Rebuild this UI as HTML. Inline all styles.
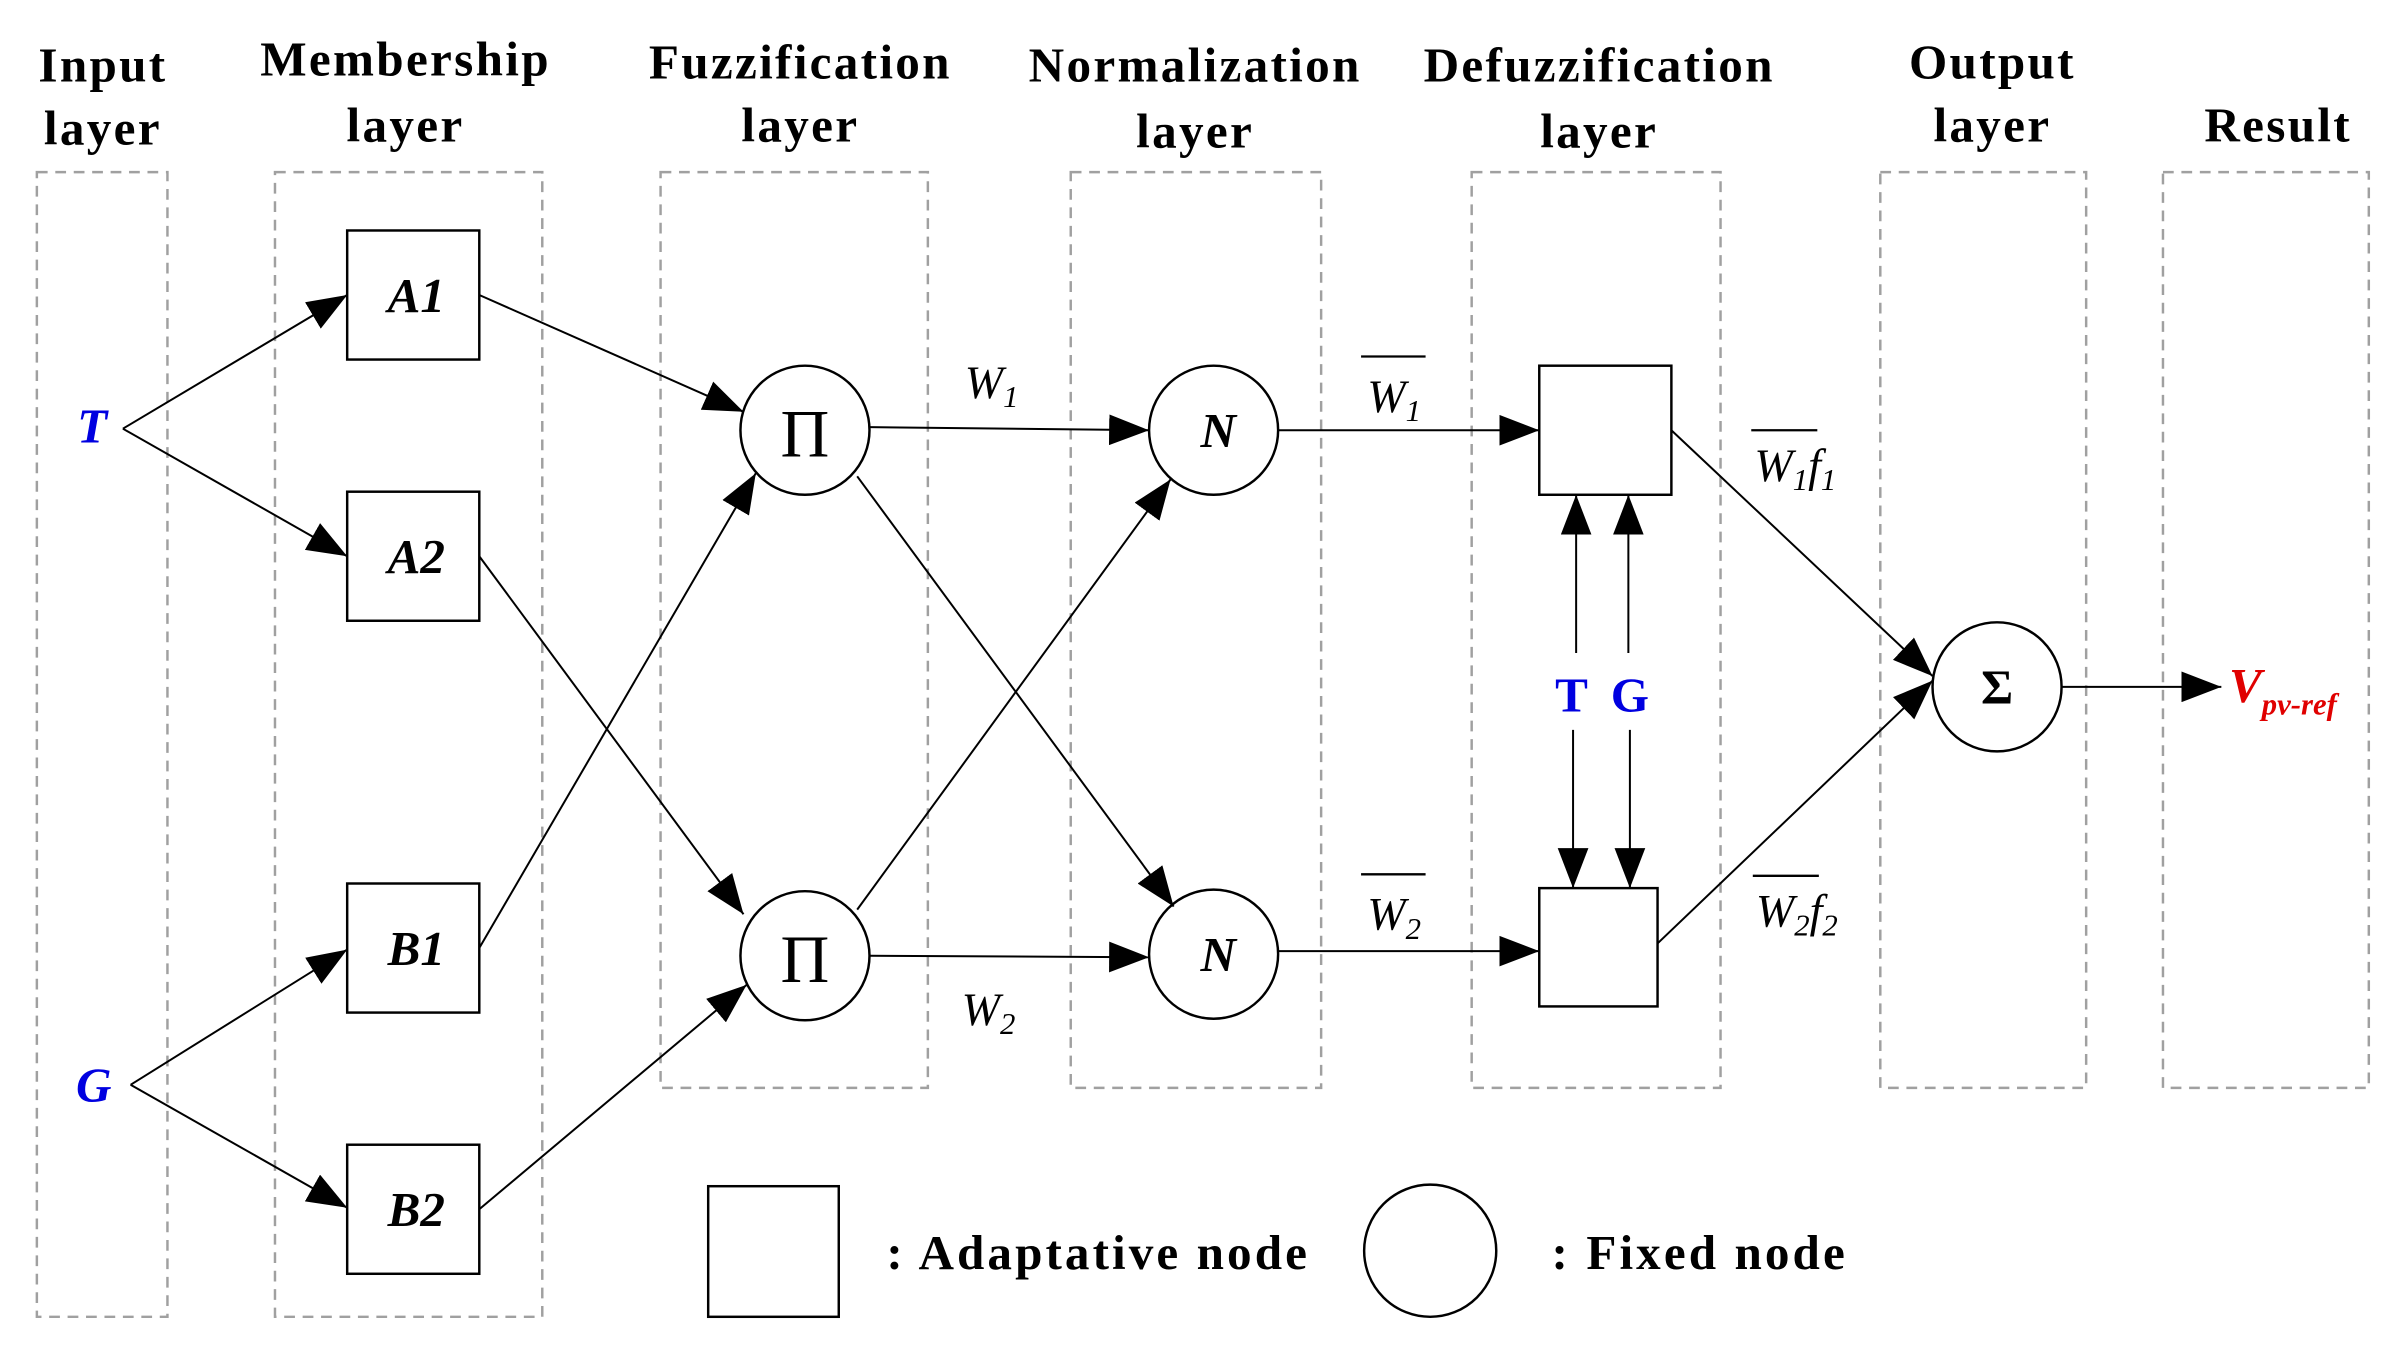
<!DOCTYPE html>
<html><head><meta charset="utf-8"><style>
html,body{margin:0;padding:0;background:#fff;}
svg{display:block;}
.t{font-family:"Liberation Serif",serif;font-weight:bold;font-size:32px;letter-spacing:1.5px;text-anchor:middle;fill:#000;}
.n{font-family:"Liberation Serif",serif;font-weight:bold;font-style:italic;font-size:32px;text-anchor:middle;fill:#000;}
.w{font-family:"Liberation Serif",serif;font-style:italic;font-size:30px;fill:#000;}
.s{font-size:20px;}
</style></head><body>
<svg width="2398" height="1346" viewBox="0 0 1561 876" preserveAspectRatio="none" xmlns="http://www.w3.org/2000/svg">
<defs><marker id="a" markerWidth="26" markerHeight="20" refX="26" refY="10" orient="auto" markerUnits="userSpaceOnUse"><path d="M0,0 L26,10 L0,20 z" fill="#000"/></marker></defs>
<g fill="none" stroke="#a0a0a0" stroke-width="1.6" stroke-dasharray="7,5">
<rect x="24" y="112" width="85" height="745"/>
<rect x="179" y="112" width="174" height="745"/>
<rect x="430" y="112" width="174" height="596"/>
<rect x="697" y="112" width="163" height="596"/>
<rect x="958" y="112" width="162" height="596"/>
<rect x="1224" y="112" width="134" height="596"/>
<rect x="1408" y="112" width="134" height="596"/>
</g>
<text class="t" x="67" y="53">Input</text><text class="t" x="67" y="94">layer</text>
<text class="t" x="264" y="49">Membership</text><text class="t" x="264" y="92">layer</text>
<text class="t" x="521" y="51">Fuzzification</text><text class="t" x="521" y="92">layer</text>
<text class="t" x="778" y="53">Normalization</text><text class="t" x="778" y="96">layer</text>
<text class="t" x="1041" y="53">Defuzzification</text><text class="t" x="1041" y="96">layer</text>
<text class="t" x="1297" y="51">Output</text><text class="t" x="1297" y="92">layer</text>
<text class="t" x="1483" y="92">Result</text>
<g fill="#fff" stroke="#000" stroke-width="1.6">
<rect x="226" y="150" width="86" height="84"/><rect x="226" y="320" width="86" height="84"/>
<rect x="226" y="575" width="86" height="84"/><rect x="226" y="745" width="86" height="84"/>
<circle cx="524" cy="280" r="42"/><circle cx="524" cy="622" r="42"/>
<circle cx="790" cy="280" r="42"/><circle cx="790" cy="621" r="42"/>
<rect x="1002" y="238" width="86" height="84"/><rect x="1002" y="578" width="77" height="77"/>
<circle cx="1300" cy="447" r="42"/>
<rect x="461" y="772" width="85" height="85"/><circle cx="931" cy="814" r="43"/>
</g>
<text class="n" x="271" y="203">A1</text><text class="n" x="271" y="373">A2</text>
<text class="n" x="271" y="628">B1</text><text class="n" x="271" y="798">B2</text>
<text class="n" x="60" y="288" style="fill:#0000e0">T</text>
<text class="n" x="61" y="717" style="fill:#0000e0">G</text>
<text x="524" y="297" font-family="Liberation Serif,serif" font-size="44" text-anchor="middle">Π</text>
<text x="524" y="639" font-family="Liberation Serif,serif" font-size="44" text-anchor="middle">Π</text>
<text class="n" x="793" y="291">N</text><text class="n" x="793" y="632">N</text>
<text x="1300" y="458" font-family="Liberation Serif,serif" font-weight="bold" font-size="32" text-anchor="middle">Σ</text>
<g stroke="#000" stroke-width="1.3" fill="none" marker-end="url(#a)">
<line x1="80" y1="279" x2="226" y2="192"/><line x1="80" y1="279" x2="226" y2="362"/>
<line x1="85" y1="706" x2="226" y2="618"/><line x1="85" y1="706" x2="226" y2="786"/>
<line x1="312" y1="192" x2="484" y2="268"/><line x1="312" y1="362" x2="484" y2="595"/>
<line x1="312" y1="617" x2="492" y2="308"/><line x1="312" y1="787" x2="486" y2="641"/>
<line x1="566" y1="278" x2="748" y2="280"/><line x1="566" y1="622" x2="748" y2="623"/>
<line x1="558" y1="310" x2="764" y2="590"/><line x1="558" y1="592" x2="762" y2="312"/>
<line x1="832" y1="280" x2="1002" y2="280"/><line x1="832" y1="619" x2="1002" y2="619"/>
<line x1="1026" y1="425" x2="1026" y2="322"/><line x1="1060" y1="425" x2="1060" y2="322"/>
<line x1="1024" y1="475" x2="1024" y2="578"/><line x1="1061" y1="475" x2="1061" y2="578"/>
<line x1="1088" y1="280" x2="1258" y2="440"/><line x1="1079" y1="614" x2="1258" y2="443"/>
<line x1="1342" y1="447" x2="1446" y2="447"/>
</g>
<text class="w" x="628" y="259">W<tspan class="s" dy="6">1</tspan></text>
<text class="w" x="626" y="667">W<tspan class="s" dy="6">2</tspan></text>
<text class="w" x="890" y="268">W<tspan class="s" dy="6">1</tspan></text>
<line x1="886" y1="232" x2="928" y2="232" stroke="#000" stroke-width="1.5"/>
<text class="w" x="890" y="605">W<tspan class="s" dy="6">2</tspan></text>
<line x1="886" y1="569" x2="928" y2="569" stroke="#000" stroke-width="1.5"/>
<text class="w" x="1142" y="313">W<tspan class="s" dy="6">1</tspan><tspan dy="-6">f</tspan><tspan class="s" dy="6">1</tspan></text>
<line x1="1140" y1="280" x2="1183" y2="280" stroke="#000" stroke-width="1.5"/>
<text class="w" x="1143" y="603">W<tspan class="s" dy="6">2</tspan><tspan dy="-6">f</tspan><tspan class="s" dy="6">2</tspan></text>
<line x1="1141" y1="570" x2="1184" y2="570" stroke="#000" stroke-width="1.5"/>
<text x="1023" y="463" font-family="Liberation Serif,serif" font-weight="bold" font-size="32" text-anchor="middle" fill="#0000e0">T</text>
<text x="1061" y="463" font-family="Liberation Serif,serif" font-weight="bold" font-size="32" text-anchor="middle" fill="#0000e0">G</text>
<text x="1451" y="457" font-family="Liberation Serif,serif" font-weight="bold" font-style="italic" font-size="32" fill="#e00000">V<tspan font-size="20" dy="8">pv-ref</tspan></text>
<text x="577" y="826" font-family="Liberation Serif,serif" font-weight="bold" font-size="32" letter-spacing="2">: Adaptative node</text>
<text x="1010" y="826" font-family="Liberation Serif,serif" font-weight="bold" font-size="32" letter-spacing="2">: Fixed node</text>
</svg>
</body></html>
